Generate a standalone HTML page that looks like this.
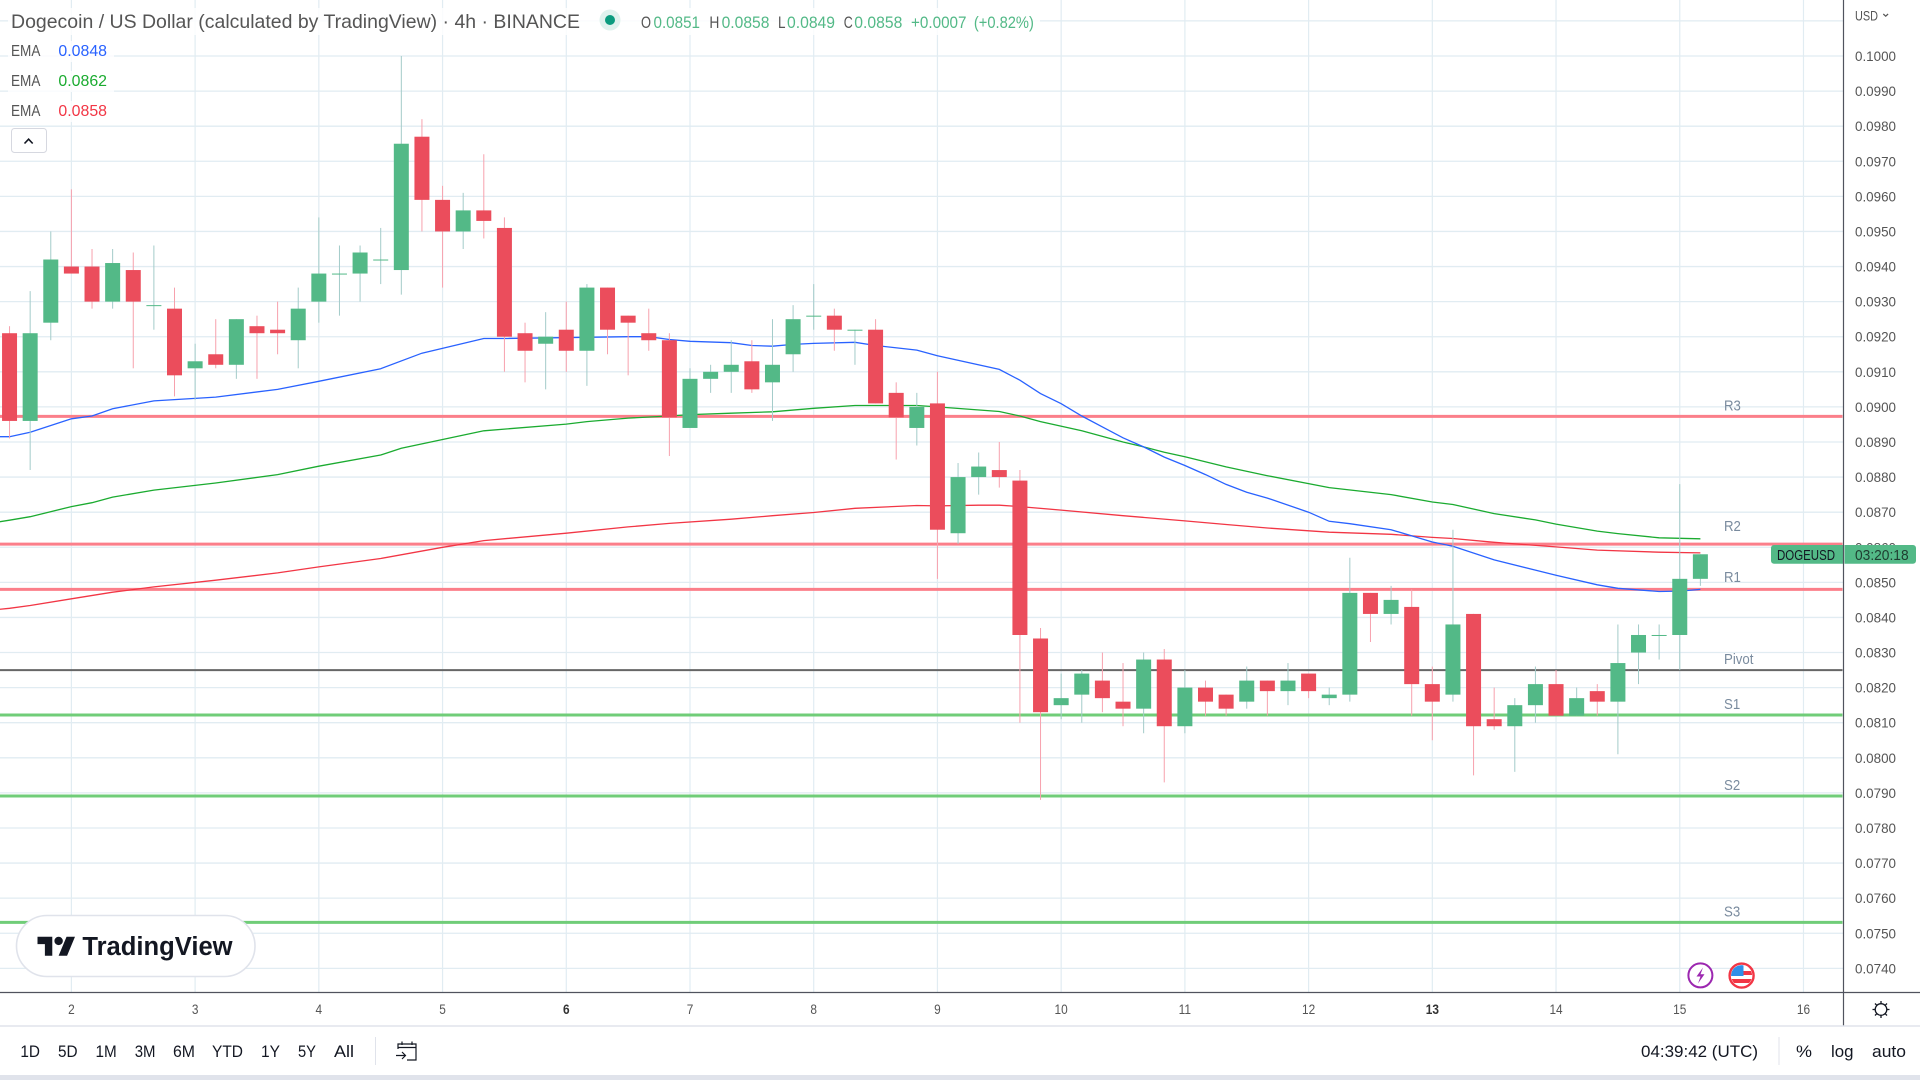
<!DOCTYPE html>
<html lang="en">
<head>
<meta charset="utf-8">
<title>Dogecoin / US Dollar 4h chart</title>
<style>
html,body{margin:0;padding:0;background:#fff;width:1920px;height:1080px;overflow:hidden}
svg{display:block;font-family:"Liberation Sans",sans-serif}
</style>
</head>
<body>
<svg id="chart" xmlns="http://www.w3.org/2000/svg" width="1920" height="1080" viewBox="0 0 1920 1080">
  <rect x="0" y="0" width="1920" height="1080" fill="#ffffff"/>
  <g id="grid"></g>
  <g id="pivots"></g>
  <g id="emas"></g>
  <g id="candles"></g>

  <!-- header -->
  <rect x="8" y="8" width="1032" height="27" fill="#fff" opacity=".82"/>
  <text x="11" y="28" font-size="19.5" fill="#555" textLength="569" lengthAdjust="spacingAndGlyphs">Dogecoin / US Dollar (calculated by TradingView) · 4h · BINANCE</text>
  <circle cx="610" cy="20" r="10.5" fill="#dff2ee"/>
  <circle cx="610" cy="20" r="5" fill="#0b9b7f"/>
  <g font-size="16.5" fill="#53b987">
    <text x="641" y="28" fill="#555" textLength="10" lengthAdjust="spacingAndGlyphs">O</text>
    <text x="653.5" y="28" textLength="46.5" lengthAdjust="spacingAndGlyphs">0.0851</text>
    <text x="709.4" y="28" fill="#555" textLength="10" lengthAdjust="spacingAndGlyphs">H</text>
    <text x="721.6" y="28" textLength="47.8" lengthAdjust="spacingAndGlyphs">0.0858</text>
    <text x="778" y="28" fill="#555" textLength="7.5" lengthAdjust="spacingAndGlyphs">L</text>
    <text x="787" y="28" textLength="48" lengthAdjust="spacingAndGlyphs">0.0849</text>
    <text x="843.7" y="28" fill="#555" textLength="9" lengthAdjust="spacingAndGlyphs">C</text>
    <text x="854.3" y="28" textLength="48" lengthAdjust="spacingAndGlyphs">0.0858</text>
    <text x="911" y="28" textLength="55.5" lengthAdjust="spacingAndGlyphs">+0.0007</text>
    <text x="973.9" y="28" textLength="60" lengthAdjust="spacingAndGlyphs">(+0.82%)</text>
  </g>

  <!-- legend -->
  <rect x="8" y="41" width="106" height="21" fill="#fff" opacity=".8"/>
  <rect x="8" y="71" width="106" height="21" fill="#fff" opacity=".8"/>
  <rect x="8" y="101" width="106" height="21" fill="#fff" opacity=".8"/>
  <g font-size="16">
    <text x="11" y="56" fill="#555" textLength="29.4" lengthAdjust="spacingAndGlyphs">EMA</text>
    <text x="58.4" y="56" fill="#2962ff" textLength="48.6" lengthAdjust="spacingAndGlyphs">0.0848</text>
    <text x="11" y="86" fill="#555" textLength="29.4" lengthAdjust="spacingAndGlyphs">EMA</text>
    <text x="58.4" y="86" fill="#1bab30" textLength="48.6" lengthAdjust="spacingAndGlyphs">0.0862</text>
    <text x="11" y="116" fill="#555" textLength="29.4" lengthAdjust="spacingAndGlyphs">EMA</text>
    <text x="58.4" y="116" fill="#f23645" textLength="48.6" lengthAdjust="spacingAndGlyphs">0.0858</text>
  </g>
  <g>
    <rect x="11.5" y="128.5" width="35" height="24" rx="3" fill="#fff" stroke="#d6d8e0"/>
    <path d="M24.5 143.5 L28.6 139.2 L32.7 143.5" fill="none" stroke="#131722" stroke-width="1.6"/>
  </g>

  <!-- logo -->
  <g>
    <rect x="16.5" y="915.5" width="238.5" height="61" rx="30.5" fill="#fff" stroke="#e0e3eb" stroke-width="1.6"/>
    <g transform="translate(37.5 932.5) scale(1.056)" fill="#131722">
      <path d="M14 22H7V11H0V4h14v18zM28 22h-8l7.5-18h8L28 22z"/>
      <circle cx="20" cy="8" r="4"/>
    </g>
    <text x="82.4" y="955" font-size="25.5" font-weight="700" fill="#131722" textLength="150.2" lengthAdjust="spacingAndGlyphs">TradingView</text>
  </g>

  <!-- event badges -->
  <g>
    <circle cx="1700.4" cy="975.4" r="12" fill="#fff" stroke="#9c27b0" stroke-width="2"/>
    <path d="M1703 967.5 L1696.5 976.5 L1700.5 976.5 L1698 983.5 L1704.5 974.2 L1700.5 974.2 Z" fill="#9c27b0"/>
  </g>
  <g>
    <clipPath id="flagClip"><circle cx="1741.6" cy="975.6" r="10.5"/></clipPath>
    <g clip-path="url(#flagClip)">
      <rect x="1730" y="964" width="24" height="24" fill="#fff"/>
      <rect x="1730" y="971" width="24" height="4" fill="#f23645"/>
      <rect x="1730" y="979" width="24" height="4" fill="#f23645"/>
      <rect x="1730" y="964" width="13.5" height="12" fill="#2f8fe8"/>
    </g>
    <circle cx="1741.6" cy="975.6" r="12" fill="none" stroke="#f23645" stroke-width="2.4"/>
  </g>

  <!-- axes -->
  <g id="priceAxis"></g>
  <text x="1855" y="20.5" font-size="13.5" fill="#555" textLength="23" lengthAdjust="spacingAndGlyphs">USD</text>
  <path d="M1883.3 14 L1885.7 16.2 L1888.1 14" fill="none" stroke="#555" stroke-width="1.2"/>

  <g>
    <path d="M1774 545 H1843.5 V563.7 H1774 a3 3 0 0 1 -3 -3 V548 a3 3 0 0 1 3 -3 Z" fill="#53b987"/>
    <text x="1777" y="560" font-size="15" fill="#131722" textLength="58" lengthAdjust="spacingAndGlyphs">DOGEUSD</text>
    <path d="M1844.5 545 H1913 a3 3 0 0 1 3 3 V560.7 a3 3 0 0 1 -3 3 H1844.5 Z" fill="#53b987"/>
    <text x="1855" y="560" font-size="15" fill="#1f3d30" textLength="53.6" lengthAdjust="spacingAndGlyphs">03:20:18</text>
  </g>

  <g id="timeAxis"></g>
  <line x1="1843.5" y1="0" x2="1843.5" y2="1026" stroke="#50535e" stroke-width="1.2"/>
  <line x1="0" y1="992.5" x2="1920" y2="992.5" stroke="#50535e" stroke-width="1.2"/>
  <line x1="0" y1="1026" x2="1920" y2="1026" stroke="#e0e3eb" stroke-width="1.4"/>

  <g fill="none" stroke="#131722" stroke-width="1.3">
    <circle cx="1881" cy="1009.5" r="5.8"/>
    <path d="M1881 1001v2.6M1881 1015.4v2.6M1872.5 1009.5h2.6M1886.9 1009.5h2.6M1875 1003.5l1.8 1.8M1885.2 1013.7l1.8 1.8M1875 1015.5l1.8-1.8M1885.2 1005.3l1.8-1.8"/>
  </g>

  <!-- bottom toolbar -->
  <g font-size="17" fill="#131722">
    <text x="20.4" y="1057" textLength="19.6" lengthAdjust="spacingAndGlyphs">1D</text>
    <text x="58" y="1057" textLength="19.6" lengthAdjust="spacingAndGlyphs">5D</text>
    <text x="95.5" y="1057" textLength="21.2" lengthAdjust="spacingAndGlyphs">1M</text>
    <text x="134.7" y="1057" textLength="20.8" lengthAdjust="spacingAndGlyphs">3M</text>
    <text x="173" y="1057" textLength="22" lengthAdjust="spacingAndGlyphs">6M</text>
    <text x="212" y="1057" textLength="31" lengthAdjust="spacingAndGlyphs">YTD</text>
    <text x="261" y="1057" textLength="19" lengthAdjust="spacingAndGlyphs">1Y</text>
    <text x="298" y="1057" textLength="18" lengthAdjust="spacingAndGlyphs">5Y</text>
    <text x="334" y="1057" textLength="20" lengthAdjust="spacingAndGlyphs">All</text>
  </g>
  <line x1="375.5" y1="1037" x2="375.5" y2="1065" stroke="#e0e3eb"/>
  <g fill="none" stroke="#131722" stroke-width="1.2">
    <path d="M398 1049 V1044 H416 V1060 H407 M398 1047.5 H416 M402 1041.5 V1045 M412 1041.5 V1045"/>
    <path d="M396 1055.5 H405 M402 1052 L405.5 1055.5 L402 1059"/>
  </g>
  <text x="1641" y="1057" font-size="17" fill="#131722" textLength="117" lengthAdjust="spacingAndGlyphs">04:39:42 (UTC)</text>
  <line x1="1779" y1="1037" x2="1779" y2="1065" stroke="#e0e3eb"/>
  <text x="1796" y="1057" font-size="17" fill="#131722" textLength="16" lengthAdjust="spacingAndGlyphs">%</text>
  <text x="1831" y="1057" font-size="17" fill="#131722" textLength="22.5" lengthAdjust="spacingAndGlyphs">log</text>
  <text x="1872" y="1057" font-size="17" fill="#131722" textLength="34" lengthAdjust="spacingAndGlyphs">auto</text>
  <rect x="0" y="1075" width="1920" height="5" fill="#e0e3eb"/>
</svg>

<script>
const openPrices = [0.0921,0.0896,0.0924,0.0940,0.0940,0.0930,0.0939,0.0929,0.0928,0.0911,0.0915,0.0912,0.0923,0.0922,0.0919,0.0930,0.0938,0.0938,0.0942,0.0939,0.0977,0.0959,0.0950,0.0956,0.0951,0.0921,0.0918,0.0922,0.0916,0.0934,0.0926,0.0921,0.0919,0.0894,0.0908,0.0910,0.0913,0.0907,0.0915,0.0926,0.0926,0.0922,0.0922,0.0904,0.0894,0.0901,0.0864,0.0880,0.0882,0.0879,0.0834,0.0815,0.0818,0.0822,0.0816,0.0814,0.0828,0.0809,0.0820,0.0818,0.0816,0.0822,0.0819,0.0824,0.0817,0.0818,0.0847,0.0841,0.0843,0.0821,0.0818,0.0841,0.0811,0.0809,0.0815,0.0821,0.0812,0.0819,0.0816,0.0830,0.0835,0.0835,0.0851];
const highPrices = [0.0923,0.0933,0.0950,0.0962,0.0945,0.0945,0.0944,0.0946,0.0934,0.0918,0.0925,0.0925,0.0926,0.0930,0.0934,0.0954,0.0946,0.0946,0.0951,0.1000,0.0982,0.0963,0.0961,0.0972,0.0954,0.0924,0.0927,0.0930,0.0935,0.0934,0.0926,0.0928,0.0921,0.0911,0.0912,0.0919,0.0919,0.0925,0.0929,0.0935,0.0928,0.0922,0.0925,0.0907,0.0904,0.0910,0.0884,0.0887,0.0890,0.0882,0.0837,0.0824,0.0825,0.0830,0.0827,0.0830,0.0831,0.0825,0.0822,0.0818,0.0826,0.0822,0.0827,0.0824,0.0820,0.0857,0.0847,0.0849,0.0848,0.0826,0.0865,0.0841,0.0820,0.0817,0.0826,0.0825,0.0820,0.0821,0.0838,0.0838,0.0838,0.0878,0.0858];
const lowPrices = [0.0891,0.0882,0.0919,0.0938,0.0928,0.0928,0.0911,0.0922,0.0903,0.0902,0.0911,0.0908,0.0908,0.0915,0.0911,0.0924,0.0926,0.0930,0.0935,0.0932,0.0950,0.0934,0.0945,0.0948,0.0910,0.0907,0.0905,0.0910,0.0906,0.0915,0.0909,0.0916,0.0886,0.0894,0.0904,0.0904,0.0904,0.0896,0.0910,0.0922,0.0916,0.0912,0.0901,0.0885,0.0889,0.0851,0.0861,0.0875,0.0877,0.0810,0.0788,0.0811,0.0810,0.0813,0.0809,0.0807,0.0793,0.0807,0.0812,0.0812,0.0814,0.0812,0.0815,0.0817,0.0815,0.0816,0.0833,0.0838,0.0812,0.0805,0.0816,0.0795,0.0808,0.0796,0.0810,0.0812,0.0812,0.0812,0.0801,0.0821,0.0828,0.0825,0.0849];
const closePrices = [0.0896,0.0921,0.0942,0.0938,0.0930,0.0941,0.0930,0.0929,0.0909,0.0913,0.0912,0.0925,0.0921,0.0921,0.0928,0.0938,0.0938,0.0944,0.0942,0.0975,0.0959,0.0950,0.0956,0.0953,0.0920,0.0916,0.0920,0.0916,0.0934,0.0922,0.0924,0.0919,0.0897,0.0908,0.0910,0.0912,0.0905,0.0912,0.0925,0.0926,0.0922,0.0922,0.0901,0.0897,0.0900,0.0865,0.0880,0.0883,0.0880,0.0835,0.0813,0.0817,0.0824,0.0817,0.0814,0.0828,0.0809,0.0820,0.0816,0.0814,0.0822,0.0819,0.0822,0.0819,0.0818,0.0847,0.0841,0.0845,0.0821,0.0816,0.0838,0.0809,0.0809,0.0815,0.0821,0.0812,0.0817,0.0816,0.0827,0.0835,0.0835,0.0851,0.0858];

const emaBlueBars = [-1,0,1,3,4,5,7,10,13,15,18,20,23,24,30,31,32,33,35,36,37,38,39,41,42,44,45,48,49,50,51,52,53,54,55,56,57,58,59,60,61,63,64,65,67,69,70,72,74,75,77,78,80,81,82];
const emaBlueValues = [0.08915,0.08915,0.08928,0.08966,0.08974,0.08995,0.09017,0.09028,0.0905,0.09073,0.09109,0.09153,0.09195,0.09195,0.092,0.092,0.09192,0.09187,0.09183,0.09175,0.09173,0.09178,0.09181,0.09184,0.09175,0.09162,0.09146,0.09107,0.09076,0.09038,0.09009,0.08974,0.08943,0.08912,0.08886,0.08857,0.08833,0.08807,0.08779,0.08757,0.0874,0.087,0.08674,0.08667,0.0865,0.08615,0.08603,0.08564,0.08535,0.0852,0.08493,0.08483,0.08474,0.08475,0.0848];
const emaGreenBars = [-1,0,1,3,4,5,7,10,13,15,18,19,21,23,27,28,30,32,33,35,37,39,41,44,45,48,49,50,52,54,55,56,57,59,61,64,67,69,70,72,74,75,77,78,80,82];
const emaGreenValues = [0.08668,0.08677,0.08687,0.08716,0.08727,0.08743,0.08763,0.08783,0.08807,0.08831,0.08863,0.08882,0.08907,0.08932,0.08951,0.08958,0.08968,0.08974,0.08978,0.08982,0.08986,0.08996,0.09004,0.09004,0.09,0.08987,0.08974,0.08958,0.08932,0.089,0.08886,0.08871,0.08858,0.08829,0.08804,0.0877,0.0875,0.08729,0.08722,0.08696,0.08678,0.08666,0.08646,0.08639,0.08627,0.08624];
const emaRedBars = [-1,0,1,3,5,7,10,13,15,18,21,23,27,30,32,35,37,39,41,44,45,47,48,49,51,54,57,59,61,64,67,69,70,72,75,77,80,82];
const emaRedValues = [0.0842,0.08426,0.08434,0.08453,0.08472,0.08487,0.08506,0.08527,0.08544,0.08568,0.086,0.08619,0.0864,0.08658,0.08668,0.0868,0.0869,0.08699,0.08711,0.08719,0.08718,0.0872,0.0872,0.08716,0.08706,0.0869,0.08675,0.08665,0.08655,0.08643,0.08637,0.08628,0.08625,0.08614,0.08601,0.08592,0.08586,0.08584];

const pivotNames = ["R3","R2","R1","Pivot","S1","S2","S3"];
const pivotPrices = [0.08973,0.08609,0.0848,0.0825,0.08122,0.07891,0.07531];
const priceTicks = [0.1000,0.0990,0.0980,0.0970,0.0960,0.0950,0.0940,0.0930,0.0920,0.0910,0.0900,0.0890,0.0880,0.0870,0.0860,0.0850,0.0840,0.0830,0.0820,0.0810,0.0800,0.0790,0.0780,0.0770,0.0760,0.0750,0.0740];
const unlabeledGridPrice = 0.1010;
const dayLabels = ["2","3","4","5","6","7","8","9","10","11","12","13","14","15","16"];
const boldDayLabels = ["6","13"];
const firstDayBar = 3;
const barsPerDay = 6;

const NS = "http://www.w3.org/2000/svg";
const plotRight = 1842.5;
const plotBottom = 992;
function xScale(bar){ return 71.4 + (bar - 3) * 20.62; }
function yScale(price){ return 56 + (0.1 - price) * 35090; }
function make(tag, parent){
  const el = document.createElementNS(NS, tag);
  parent.appendChild(el);
  return el;
}

const gridLayer = document.getElementById("grid");
const pivotLayer = document.getElementById("pivots");
const emaLayer = document.getElementById("emas");
const candleLayer = document.getElementById("candles");
const priceAxisLayer = document.getElementById("priceAxis");
const timeAxisLayer = document.getElementById("timeAxis");

[unlabeledGridPrice].concat(priceTicks).forEach(function(p){
  const line = make("line", gridLayer);
  
  
  line.setAttribute("x1", 0);
  line.setAttribute("x2", 1843);
  line.setAttribute("y1", yScale(p));
  line.setAttribute("y2", yScale(p));
  line.setAttribute("stroke", "#e1ecf2");
  line.setAttribute("stroke-width", 1.3);
});

dayLabels.forEach(function(label, k){
  const x = xScale(firstDayBar + k * barsPerDay);
  const line = make("line", gridLayer);
  
  
  line.setAttribute("x1", x);
  line.setAttribute("x2", x);
  line.setAttribute("y1", 0);
  line.setAttribute("y2", plotBottom);
  line.setAttribute("stroke", "#e1ecf2");
  line.setAttribute("stroke-width", 1.2);

  const tick = make("text", timeAxisLayer);
  
  
  tick.setAttribute("x", x);
  tick.setAttribute("y", 1014);
  tick.setAttribute("text-anchor", "middle");
  tick.setAttribute("font-size", 14);
  const isBold = boldDayLabels.indexOf(label) >= 0;
  tick.setAttribute("font-weight", isBold ? 700 : 400);
  tick.setAttribute("fill", isBold ? "#333" : "#555");
  tick.textContent = label;
  tick.setAttribute("textLength", (tick.getComputedTextLength() * 0.85).toFixed(1));
  tick.setAttribute("lengthAdjust", "spacingAndGlyphs");
});

pivotNames.forEach(function(name, k){
  const y = yScale(pivotPrices[k]);
  const isResistance = name.charAt(0) === "R";
  const isPivot = name === "Pivot";
  const line = make("line", pivotLayer);
  
  
  line.setAttribute("x1", 0);
  line.setAttribute("x2", plotRight);
  line.setAttribute("y1", y);
  line.setAttribute("y2", y);
  line.setAttribute("stroke", isPivot ? "#666666" : (isResistance ? "#fb7f8a" : "#70cd78"));
  line.setAttribute("stroke-width", isPivot ? 2 : 3);

  const label = make("text", pivotLayer);
  
  
  label.setAttribute("x", 1724);
  const lift = name === "R2" ? 13 : (name === "R1" ? 7.5 : 6);
  label.setAttribute("y", y - lift);
  label.setAttribute("font-size", 15);
  label.setAttribute("fill", "#7a8b9e");
  label.textContent = name;
  label.setAttribute("textLength", (label.getComputedTextLength() * 0.88).toFixed(1));
  label.setAttribute("lengthAdjust", "spacingAndGlyphs");
});

function drawEma(bars, values, color, name){
  const pts = bars.map(function(b, k){ return xScale(b).toFixed(1) + "," + yScale(values[k]).toFixed(1); }).join(" ");
  const line = make("polyline", emaLayer);
  
  
  line.setAttribute("points", pts);
  line.setAttribute("fill", "none");
  line.setAttribute("stroke", color);
  line.setAttribute("stroke-width", 1.3);
}
drawEma(emaRedBars, emaRedValues, "#f23645", "ema-red-line");
drawEma(emaGreenBars, emaGreenValues, "#1bab30", "ema-green-line");
drawEma(emaBlueBars, emaBlueValues, "#2962ff", "ema-blue-line");

openPrices.forEach(function(open, i){
  const close = closePrices[i];
  const up = close >= open;
  const x = xScale(i);
  const wick = make("line", candleLayer);
  
  
  wick.setAttribute("x1", x);
  wick.setAttribute("x2", x);
  wick.setAttribute("y1", yScale(highPrices[i]));
  wick.setAttribute("y2", yScale(lowPrices[i]));
  wick.setAttribute("stroke", up ? "#a3cbc9" : "#f7a1ad");
  wick.setAttribute("stroke-width", 1);

  const top = yScale(Math.max(open, close));
  const bottom = yScale(Math.min(open, close));
  const body = make("rect", candleLayer);
  
  
  body.setAttribute("x", x - 7.5);
  body.setAttribute("y", top);
  body.setAttribute("width", 15);
  body.setAttribute("height", Math.max(bottom - top, 1));
  body.setAttribute("fill", up ? "#53b987" : "#eb4d5c");
});

priceTicks.forEach(function(p){
  const label = make("text", priceAxisLayer);
  
  
  label.setAttribute("x", 1855);
  label.setAttribute("y", yScale(p) + 5);
  label.setAttribute("font-size", 14);
  label.setAttribute("fill", "#555");
  label.setAttribute("textLength", 41);
  label.setAttribute("lengthAdjust", "spacingAndGlyphs");
  label.textContent = p.toFixed(4);
});
</script>
</body>
</html>
